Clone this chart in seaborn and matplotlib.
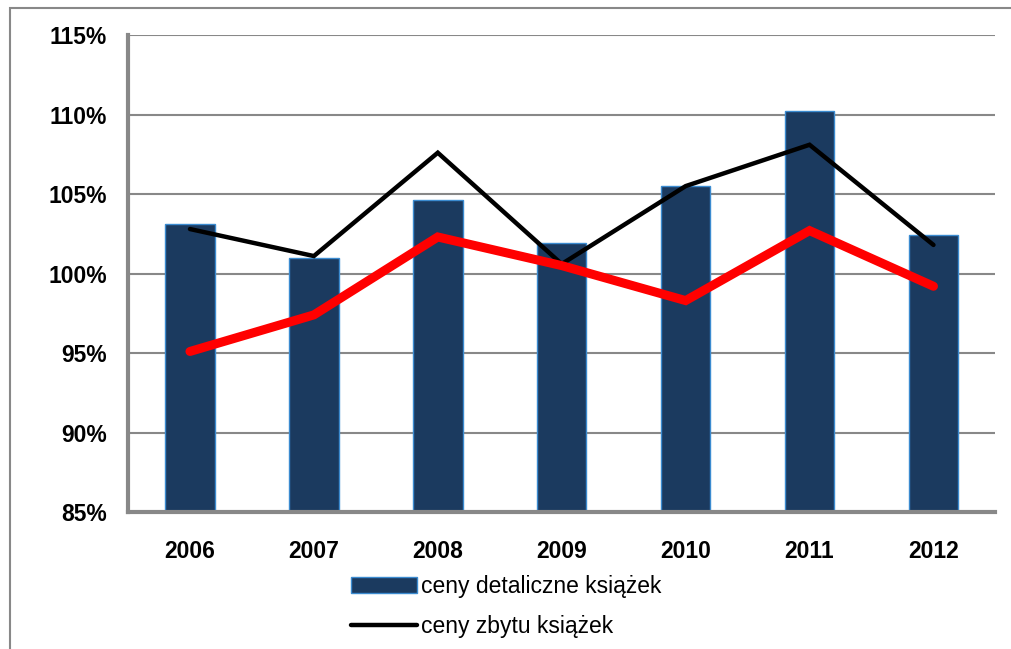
import numpy as np
import pandas as pd
import seaborn as sns
import matplotlib.pyplot as plt
from matplotlib.patches import Rectangle
from matplotlib.ticker import FuncFormatter, FixedLocator

years = ["2006", "2007", "2008", "2009", "2010", "2011", "2012"]
retail = [103.1, 101.0, 104.6, 101.9, 105.5, 110.2, 102.4]   # ceny detaliczne książek
sales = [102.8, 101.1, 107.6, 100.6, 105.5, 108.1, 101.8]    # ceny zbytu książek
red_line = [95.1, 97.4, 102.3, 100.5, 98.3, 102.7, 99.2]

df = pd.DataFrame({"rok": years, "detal": retail, "zbyt": sales, "czerwona": red_line})

sns.set_style("white")
plt.rcParams["font.family"] = ["Liberation Sans", "DejaVu Sans"]
plt.rcParams["text.color"] = "black"
plt.rcParams["xtick.color"] = "black"
plt.rcParams["ytick.color"] = "black"

fig = plt.figure(figsize=(10.11, 6.49), dpi=100)
ax = fig.add_axes([0.1266, 0.211, 0.858, 0.735])

grey = "#888888"
ax.yaxis.grid(True, color=grey, linewidth=1.5, zorder=0)
ax.set_axisbelow(True)

sns.barplot(data=df, x="rok", y="detal", color="#1b3a5f", width=0.4,
            edgecolor="#3b8bd0", linewidth=1, saturation=1,
            label="ceny detaliczne książek", ax=ax, zorder=2)
sns.lineplot(data=df, x="rok", y="zbyt", color="black", linewidth=3.2,
             label="ceny zbytu książek", ax=ax, zorder=3,
             solid_capstyle="round", solid_joinstyle="miter")
sns.lineplot(data=df, x="rok", y="czerwona", color="#ff0000", linewidth=6.5,
             legend=False, ax=ax, zorder=4,
             solid_capstyle="round", solid_joinstyle="miter")

ax.set_ylim(85, 115)
ax.set_xlim(-0.5, 6.5)
ax.set_yticks(np.arange(85, 116, 5))
ax.yaxis.set_major_formatter(FuncFormatter(lambda v, p: f"{v:.0f}%"))
ax.set_xlabel("")
ax.set_ylabel("")

# x ticks at category boundaries, labels at centres
ax.xaxis.set_major_locator(FixedLocator(np.arange(-0.5, 7, 1)))
ax.xaxis.set_minor_locator(FixedLocator(np.arange(0, 7, 1)))
ax.set_xticklabels([""] * 8)
ax.set_xticklabels(years, minor=True)
ax.tick_params(axis="x", which="major", length=7, width=2.5, color=grey, direction="out")
ax.tick_params(axis="x", which="minor", length=0, pad=20)
ax.tick_params(axis="y", length=7, width=2.5, color=grey, direction="out", pad=8)
for lab in ax.get_xticklabels(minor=True) + ax.get_yticklabels():
    lab.set_fontsize(16.5)
    lab.set_fontweight("bold")
    lab.set_color("black")

sns.despine(ax=ax, top=True, right=True)
for side in ["left", "bottom"]:
    ax.spines[side].set_color(grey)
    ax.spines[side].set_linewidth(3)

ax.get_legend().remove()
handles, labels = ax.get_legend_handles_labels()
order = [labels.index("ceny detaliczne książek"), labels.index("ceny zbytu książek")]
fig.legend([handles[i] for i in order], [labels[i] for i in order],
           loc="upper left", bbox_to_anchor=(0.338, 0.128),
           frameon=False, fontsize=16.5, handlelength=2.9, handletextpad=0.15,
           labelspacing=0.75, borderaxespad=0)

# outer chart frame
fig.patches.append(Rectangle((0.01, -0.02), 1.2, 1.008, transform=fig.transFigure,
                             fill=False, edgecolor=grey, linewidth=1.5))

fig.savefig("out.png", dpi=100)
